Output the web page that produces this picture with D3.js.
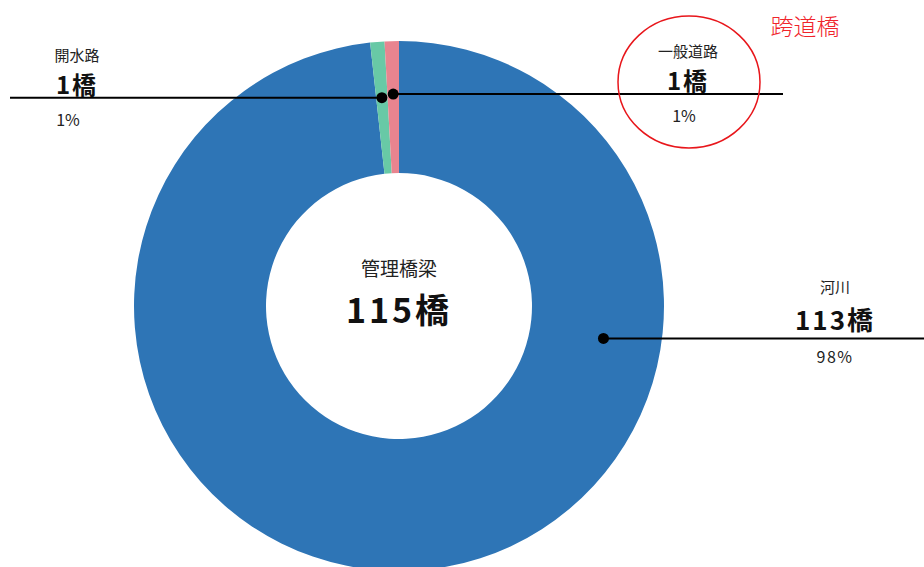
<!DOCTYPE html>
<html>
<head>
<meta charset="utf-8">
<script src="https://cdn.jsdelivr.net/npm/d3@7"></script>
<style>
  body { margin: 0; background: #fff; }
  svg { display: block; font-family: "Noto Sans CJK JP", "Noto Sans", sans-serif; }
</style>
</head>
<body>
<svg width="924" height="567"></svg>
<script>
const categories = ["河川", "開水路", "一般道路"];
const counts = [113, 1, 1];
const percents = ["98%", "1%", "1%"];
const colors = ["#2E75B6", "#68C9A6", "#E8848F"];
const totalLabel = "管理橋梁";
const unit = "橋";

const svg = d3.select("svg");
const cx = 399, cy = 306;
const outerR = 265, innerR = 133;

const data = categories.map((c, i) => ({ name: c, value: counts[i], pct: percents[i], color: colors[i] }));

const pie = d3.pie().sort(null).value(d => d.value);
const arc = d3.arc().innerRadius(innerR).outerRadius(outerR);
const arcs = pie(data);

const g = svg.append("g").attr("transform", `translate(${cx},${cy})`);

g.selectAll("path")
  .data(arcs)
  .enter()
  .append("path")
  .attr("d", arc)
  .attr("fill", d => d.data.color);

// center text
const total = d3.sum(counts);
g.append("text")
  .attr("text-anchor", "middle")
  .attr("y", -30)
  .attr("font-size", 19)
  .attr("fill", "#222")
  .text(totalLabel);
g.append("text")
  .attr("text-anchor", "middle")
  .attr("y", 17)
  .attr("font-size", 34)
  .attr("font-weight", "bold")
  .attr("letter-spacing", 3)
  .attr("fill", "#111")
  .text(total + unit);

// label layout: dot angle/radius, line end, text anchor x
const layout = [
  { angle: 99 * Math.PI / 180, r: 207, lineTo: 924 - cx, tx: 835 - cx, dx: 0 },
  { angle: null, r: 209, lineTo: 10 - cx, tx: 77 - cx, dx: -9 },
  { angle: null, r: 212, lineTo: 783 - cx, tx: 688 - cx, dx: -4 }
];

arcs.forEach((a, i) => {
  const L = layout[i];
  const ang = L.angle != null ? L.angle : (a.startAngle + a.endAngle) / 2;
  const x = L.r * Math.sin(ang);
  const y = -L.r * Math.cos(ang);

  g.append("line")
    .attr("x1", x).attr("y1", y)
    .attr("x2", L.lineTo).attr("y2", y)
    .attr("stroke", "#000")
    .attr("stroke-width", 2);
  g.append("circle")
    .attr("cx", x).attr("cy", y)
    .attr("r", 5.5)
    .attr("fill", "#000");

  const big = i === 0;
  g.append("text")
    .attr("text-anchor", "middle")
    .attr("x", L.tx)
    .attr("y", y - (big ? 45 : 37))
    .attr("font-size", 15)
    .attr("fill", "#222")
    .text(a.data.name);
  g.append("text")
    .attr("text-anchor", "middle")
    .attr("x", L.tx)
    .attr("y", y - (big ? 8 : 4))
    .attr("font-size", big ? 26 : 24)
    .attr("font-weight", "bold")
    .attr("letter-spacing", 2)
    .attr("fill", "#111")
    .text(a.data.value + unit);
  g.append("text")
    .attr("text-anchor", "middle")
    .attr("x", L.tx + L.dx)
    .attr("y", y + (big ? 25 : 28))
    .attr("font-size", 16)
    .attr("letter-spacing", big ? 1.5 : 0)
    .attr("fill", "#222")
    .text(a.data.pct);
});

// annotation for overpass
svg.append("ellipse")
  .attr("cx", 689).attr("cy", 82)
  .attr("rx", 71).attr("ry", 66)
  .attr("fill", "none")
  .attr("stroke", "#E8161B")
  .attr("stroke-width", 1.5);
svg.append("text")
  .attr("x", 805).attr("y", 35)
  .attr("text-anchor", "middle")
  .attr("font-size", 23)
  .attr("font-weight", 300)
  .attr("fill", "#F0242B")
  .text("跨道橋");
</script>
</body>
</html>
